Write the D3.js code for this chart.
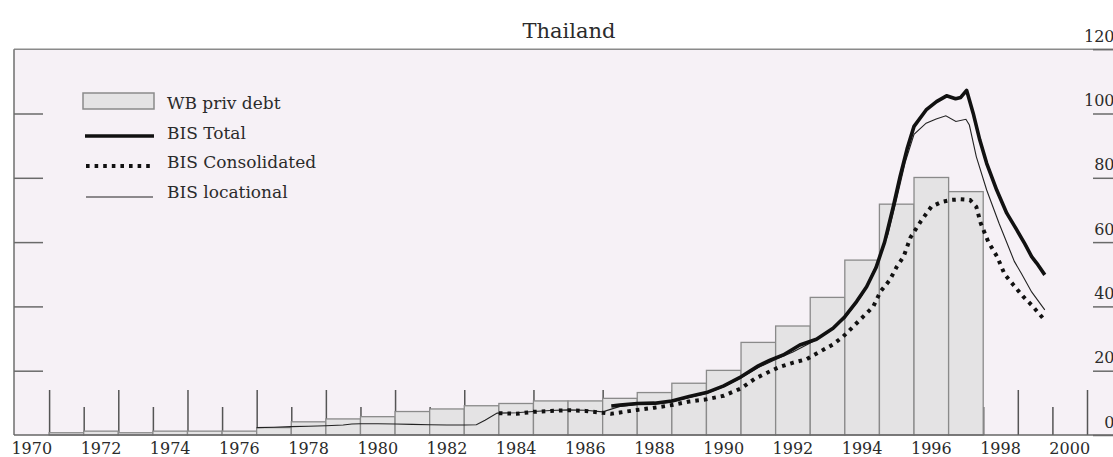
<!DOCTYPE html>
<html>
<head>
<meta charset="utf-8">
<script src="https://cdn.jsdelivr.net/npm/d3@7"></script>
<style>
  html, body { margin: 0; padding: 0; background: #ffffff; }
  svg { display: block; }
  text { font-family: "DejaVu Serif", serif; fill: #2b2b2b; }
</style>
</head>
<body>
<svg id="chart" width="1113" height="457"></svg>
<script>
// ---- data (USD bn) ----
const barYears = d3.range(1970, 1998);
const wbPrivDebt = [0, 0.7, 1.2, 0.7, 1.2, 1.2, 1.2, 2.3, 4.1, 5.0, 5.7, 7.3, 8.1, 9.1,
                    9.8, 10.6, 10.6, 11.4, 13.2, 16.1, 20.1, 28.8, 33.9, 42.8, 54.4, 71.8, 80.1, 75.7];

const totalDates  = [1987.25, 1987.5, 1988.0, 1988.5, 1989.0, 1989.5, 1990.0, 1990.5, 1991.0, 1991.5,
                     1991.84, 1992.22, 1992.7, 1993.18, 1993.66, 1994.0, 1994.34, 1994.63, 1994.9, 1995.15,
                     1995.4, 1995.6, 1995.8, 1996.0, 1996.35, 1996.65, 1996.94, 1997.2, 1997.35, 1997.52,
                     1997.71, 1997.9, 1998.1, 1998.39, 1998.68, 1998.97, 1999.2, 1999.4, 1999.55, 1999.78];
const totalValues = [9.0, 9.3, 9.8, 9.9, 10.6, 12.0, 13.2, 15.3, 18.1, 21.5,
                     23.3, 24.9, 28.0, 29.8, 33.2, 36.8, 41.5, 46.1, 52.0, 60.0,
                     71.0, 80.5, 89.0, 96.0, 101.1, 103.7, 105.5, 104.6, 105.0, 107.2,
                     100.1, 91.8, 84.5, 76.2, 69.0, 63.8, 59.5, 55.5, 53.4, 49.8];

const consDates  = [1984.0, 1984.5, 1985.0, 1985.5, 1986.0, 1986.5, 1987.0, 1987.25, 1987.5, 1988.0,
                    1988.5, 1989.0, 1989.5, 1990.0, 1990.5, 1991.0, 1991.4, 1991.74, 1992.12, 1992.51,
                    1992.9, 1993.28, 1993.66, 1993.95, 1994.24, 1994.53, 1994.82, 1995.03, 1995.3, 1995.5,
                    1995.7, 1995.9, 1996.2, 1996.5, 1996.8, 1997.05, 1997.35, 1997.62, 1997.8, 1997.93,
                    1998.15, 1998.4, 1998.62, 1998.87, 1999.16, 1999.4, 1999.73];
const consValues = [6.8, 6.6, 7.2, 7.5, 7.7, 7.5, 6.9, 6.6, 7.0, 7.8,
                    8.5, 9.3, 10.4, 11.1, 12.2, 14.5, 17.5, 19.3, 21.2, 22.5,
                    23.6, 25.9, 28.2, 30.6, 33.7, 36.8, 39.9, 44.6, 48.2, 52.3,
                    55.5, 61.5, 66.5, 71.0, 72.5, 73.1, 73.3, 73.1, 71.0, 65.8,
                    60.0, 55.5, 50.0, 46.7, 43.0, 40.4, 36.3];

const locDates  = [1977.0, 1977.5, 1978.0, 1978.5, 1979.0, 1979.5, 1979.75, 1980.0, 1980.5, 1981.0,
                   1981.5, 1982.0, 1982.5, 1983.0, 1983.35, 1983.6, 1983.95, 1984.5, 1985.0, 1985.5,
                   1986.0, 1986.5, 1987.0, 1987.5, 1988.0, 1988.5, 1989.0, 1989.5, 1990.0, 1990.5,
                   1991.0, 1991.5, 1992.0, 1992.5, 1993.0, 1993.5, 1994.0, 1994.5, 1995.0, 1995.25,
                   1995.5, 1995.75, 1996.0, 1996.35, 1996.64, 1996.92, 1997.21, 1997.5, 1997.6, 1997.8,
                   1998.1, 1998.46, 1998.9, 1999.1, 1999.4, 1999.78];
const locValues = [2.3, 2.4, 2.6, 2.7, 2.9, 3.1, 3.4, 3.5, 3.5, 3.4,
                   3.3, 3.2, 3.1, 3.1, 3.2, 4.6, 6.8, 6.9, 7.3, 7.6,
                   7.8, 7.7, 7.2, 8.9, 9.5, 9.6, 10.3, 11.7, 12.9, 15.0,
                   17.8, 21.0, 23.5, 25.8, 28.6, 31.8, 36.3, 43.5, 55.0, 62.5,
                   73.5, 85.0, 93.5, 97.0, 98.3, 99.3, 97.5, 98.2, 96.4, 86.6,
                   76.2, 65.8, 54.0, 50.3, 44.5, 38.9];

const labelYears = d3.range(1970, 2001, 2);
const valueTicks = [0, 20, 40, 60, 80, 100, 120];
const legendItems = ["WB priv debt", "BIS Total", "BIS Consolidated", "BIS locational"];

// ---- layout ----
const W = 1113, H = 457;
const svg = d3.select("#chart");
const x = d3.scaleLinear().domain([1970, 2001]).range([14.5, 1087]);
const xBand = d3.scaleBand().domain(d3.range(1970, 2001)).range([14.5, 1087]).padding(0);
const y = d3.scaleLinear().domain([0, 120]).range([435, 49.2]);

// plot area
svg.append("rect")
  .attr("x", 14).attr("y", y(120))
  .attr("width", W).attr("height", y(0) - y(120))
  .attr("fill", "#f6f1f6");

// year boundary marks: tall at odd years, short at even years
function marks(values, len) {
  svg.append("g")
    .attr("transform", `translate(0,${y(0)})`)
    .call(d3.axisBottom(x).tickValues(values).tickSizeInner(-len).tickSizeOuter(0).tickFormat(""))
    .call(g => g.select(".domain").remove())
    .call(g => g.selectAll(".tick line").attr("stroke", "#555").attr("stroke-width", 1.5));
}
marks(d3.range(1971, 2002, 2), 45);
marks(d3.range(1972, 2001, 2), 28);

// WB private debt bars
svg.append("g").selectAll("rect")
  .data(barYears.map((yr, i) => ({ yr, v: wbPrivDebt[i] })))
  .join("rect")
  .attr("x", d => x(d.yr))
  .attr("width", d => x(d.yr + 1) - x(d.yr))
  .attr("y", d => y(d.v))
  .attr("height", d => y(0) - y(d.v))
  .attr("fill", "#e4e3e4")
  .attr("stroke", "#8a8a8a")
  .attr("stroke-width", 1.3);

// frame
svg.append("line").attr("x1", 14).attr("x2", W).attr("y1", y(120)).attr("y2", y(120))
  .attr("stroke", "#8a8a8a").attr("stroke-width", 1.6);
svg.append("line").attr("x1", 14).attr("x2", 14).attr("y1", y(120)).attr("y2", y(0))
  .attr("stroke", "#777").attr("stroke-width", 1.6);
svg.append("line").attr("x1", 14).attr("x2", W).attr("y1", y(0)).attr("y2", y(0))
  .attr("stroke", "#666").attr("stroke-width", 1.6);

// left value ticks
svg.append("g").attr("transform", "translate(14,0)")
  .call(d3.axisRight(y).tickValues([20, 40, 60, 80, 100]).tickSize(29).tickFormat(""))
  .call(g => g.select(".domain").remove())
  .call(g => g.selectAll(".tick line").attr("stroke", "#6a6a6a").attr("stroke-width", 1.5));

// right value axis with labels above the ticks
svg.append("g").attr("transform", "translate(1093,0)")
  .call(d3.axisRight(y).tickValues(valueTicks).tickSize(30).tickFormat(d3.format("d")))
  .call(g => g.select(".domain").remove())
  .call(g => g.selectAll(".tick line").attr("stroke", "#6a6a6a").attr("stroke-width", 1.5))
  .call(g => g.selectAll(".tick text")
    .attr("x", 21.5).attr("y", -8).attr("dy", null)
    .attr("text-anchor", "end")
    .attr("font-family", "DejaVu Serif").attr("font-size", 16).attr("fill", "#2b2b2b"));

// year labels centred in each year
svg.append("g").attr("transform", `translate(0,${y(0)})`)
  .call(d3.axisBottom(xBand).tickValues(labelYears).tickSize(0).tickPadding(7.6))
  .call(g => g.select(".domain").remove())
  .call(g => g.selectAll(".tick text")
    .attr("font-family", "DejaVu Serif").attr("font-size", 16).attr("fill", "#2b2b2b"));

// BIS series
const line = d3.line().x(d => x(d[0])).y(d => y(d[1]));
const zip = (a, b) => a.map((d, i) => [d, b[i]]);

svg.append("path").datum(zip(locDates, locValues))
  .attr("d", line).attr("fill", "none")
  .attr("stroke", "#222").attr("stroke-width", 1.1);

svg.append("path").datum(zip(consDates, consValues))
  .attr("d", line).attr("fill", "none")
  .attr("stroke", "#111").attr("stroke-width", 4)
  .attr("stroke-dasharray", "3.6 5");

svg.append("path").datum(zip(totalDates, totalValues))
  .attr("d", line).attr("fill", "none")
  .attr("stroke", "#111").attr("stroke-width", 3.6)
  .attr("stroke-linejoin", "round");

// title
svg.append("text").attr("x", 569).attr("y", 38)
  .attr("text-anchor", "middle").attr("font-size", 21)
  .text("Thailand");

// legend
const lg = svg.append("g");
lg.append("rect").attr("x", 83).attr("y", 93).attr("width", 71).attr("height", 16)
  .attr("fill", "#e4e3e4").attr("stroke", "#8a8a8a").attr("stroke-width", 1.5);
lg.append("line").attr("x1", 85).attr("x2", 154).attr("y1", 136).attr("y2", 136)
  .attr("stroke", "#111").attr("stroke-width", 3.6);
lg.append("line").attr("x1", 86).attr("x2", 154).attr("y1", 166).attr("y2", 166)
  .attr("stroke", "#111").attr("stroke-width", 4).attr("stroke-dasharray", "3.6 5");
lg.append("line").attr("x1", 86).attr("x2", 153).attr("y1", 197).attr("y2", 197)
  .attr("stroke", "#222").attr("stroke-width", 1.1);
lg.selectAll("text").data(legendItems).join("text")
  .attr("x", 167).attr("y", (d, i) => [109, 139, 168, 198][i])
  .attr("font-size", 17)
  .text(d => d);
</script>
</body>
</html>
